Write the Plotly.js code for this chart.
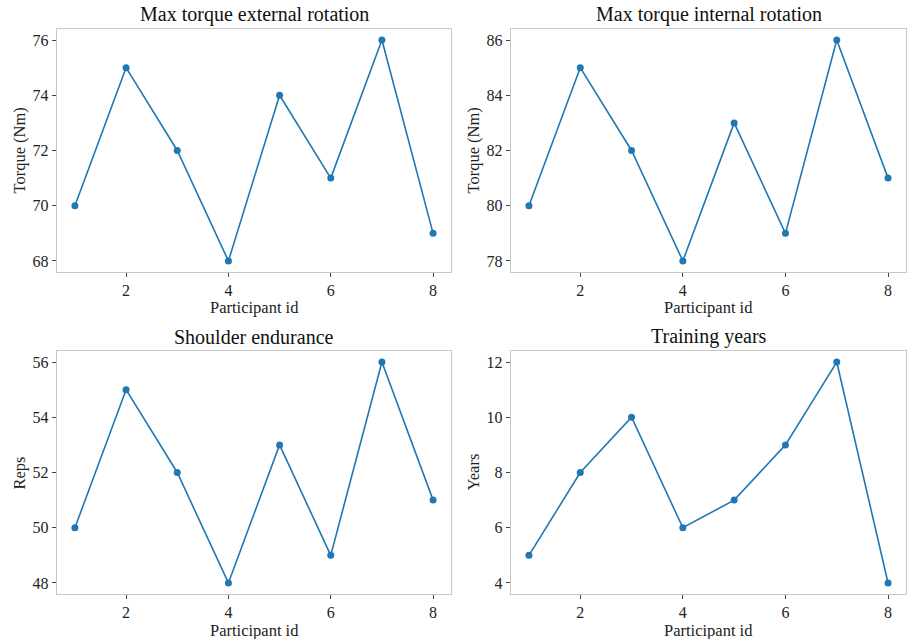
<!DOCTYPE html>
<html>
<head>
<meta charset="utf-8">
<script src="https://cdn.plot.ly/plotly-3.0.1.min.js"></script>
<style>
html,body{margin:0;padding:0;background:#fff;}
#chart{width:909px;height:639px;}
#chart text{font-family:"Liberation Serif","Times New Roman",serif !important;}
</style>
</head>
<body>
<div id="chart"></div>
<script>
const participants = [1, 2, 3, 4, 5, 6, 7, 8];
const externalRotation = [70, 75, 72, 68, 74, 71, 76, 69];
const internalRotation = [80, 85, 82, 78, 83, 79, 86, 81];
const shoulderEndurance = [50, 55, 52, 48, 53, 49, 56, 51];
const trainingYears = [5, 8, 10, 6, 7, 9, 12, 4];
const panelTitles = ["Max torque external rotation", "Max torque internal rotation", "Shoulder endurance", "Training years"];
const yLabels = ["Torque (Nm)", "Torque (Nm)", "Reps", "Years"];
const xLabel = "Participant id";

const series = [externalRotation, internalRotation, shoulderEndurance, trainingYears];
const FONT = "Liberation Serif";
const blue = "#1f77b4";

const xDomains = [[57/909, 451/909], [511/909, 906/909], [57/909, 451/909], [511/909, 906/909]];
const yDomains = [[1-272/639, 1-29/639], [1-272/639, 1-29/639], [1-594/639, 1-351/639], [1-594/639, 1-351/639]];

const traces = series.map((ys, i) => ({
  x: participants, y: ys, type: "scatter", mode: "lines+markers",
  xaxis: i === 0 ? "x" : "x" + (i + 1),
  yaxis: i === 0 ? "y" : "y" + (i + 1),
  line: {color: blue, width: 1.6},
  marker: {color: blue, size: 7},
  showlegend: false, hoverinfo: "x+y"
}));

function pad(arr) {
  const mn = Math.min(...arr), mx = Math.max(...arr);
  const p = (mx - mn) * 0.05;
  return [mn - p, mx + p];
}

const layout = {
  width: 909, height: 639,
  margin: {l: 0, r: 0, t: 0, b: 0},
  paper_bgcolor: "#fff", plot_bgcolor: "#fff",
  font: {family: FONT, color: "#222", size: 16},
  annotations: []
};

series.forEach((ys, i) => {
  const xk = i === 0 ? "xaxis" : "xaxis" + (i + 1);
  const yk = i === 0 ? "yaxis" : "yaxis" + (i + 1);
  const common = () => ({
    showgrid: false, zeroline: false, showline: true, mirror: true,
    linecolor: "#c8c8c8", linewidth: 1.2,
    ticks: "outside", ticklen: 4, tickwidth: 1, tickcolor: "#444",
    tickfont: {family: FONT, size: 16, color: "#222"}
  });
  layout[xk] = Object.assign(common(), {
    domain: xDomains[i], anchor: i === 0 ? "y" : "y" + (i + 1),
    range: pad(participants), tickmode: "array", tickvals: [2, 4, 6, 8]
  });
  layout[yk] = Object.assign(common(), {
    domain: yDomains[i], anchor: i === 0 ? "x" : "x" + (i + 1),
    range: pad(ys), dtick: 2
  });
  const cx = (xDomains[i][0] + xDomains[i][1]) / 2;
  const cy = (yDomains[i][0] + yDomains[i][1]) / 2;
  layout.annotations.push({
    text: panelTitles[i], showarrow: false,
    xref: "paper", yref: "paper",
    x: cx, y: yDomains[i][1],
    xanchor: "center", yanchor: "bottom", yshift: 1,
    font: {family: FONT, size: 20, color: "#111"}
  });
  layout.annotations.push({
    text: xLabel, showarrow: false, borderpad: 0,
    xref: "paper", yref: "paper",
    x: cx, y: yDomains[i][0],
    xanchor: "center", yanchor: "middle", yshift: -36,
    font: {family: FONT, size: 16.5, color: "#222"}
  });
  layout.annotations.push({
    text: yLabels[i], showarrow: false, textangle: -90, borderpad: 0,
    xref: "paper", yref: "paper",
    x: xDomains[i][0], y: cy,
    xanchor: "center", yanchor: "middle", xshift: -38,
    font: {family: FONT, size: 16.5, color: "#222"}
  });
});

Plotly.newPlot("chart", traces, layout, {displayModeBar: false, staticPlot: true});
</script>
</body>
</html>
